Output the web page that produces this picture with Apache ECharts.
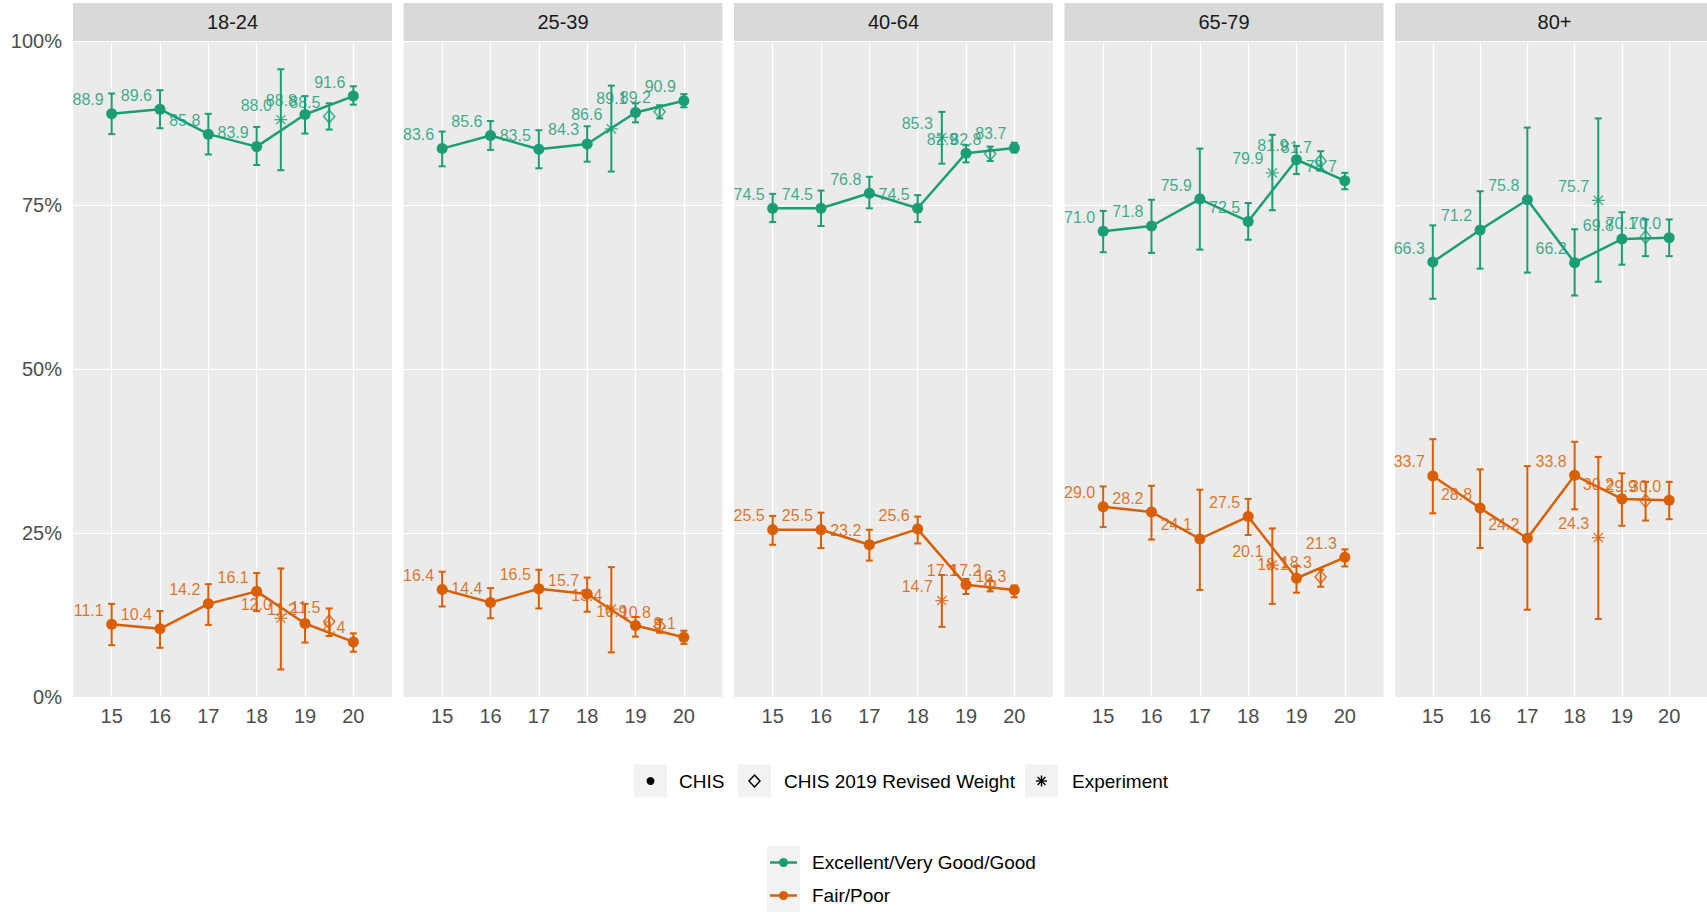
<!DOCTYPE html>
<html><head><meta charset="utf-8">
<script src="https://cdn.jsdelivr.net/npm/echarts@6/dist/echarts.min.js"></script>
<style>html,body{margin:0;padding:0;background:#fff}#c{width:1707px;height:912px}</style>
</head><body><div id="c"></div>
<script>
// ---------- data ----------
const panels = ['18-24', '25-39', '40-64', '65-79', '80+'];
const years = [15, 16, 17, 18, 19, 20];
const expX = 18.5;   // Experiment position
const revX = 19.5;   // CHIS 2019 Revised Weight position
const yTicks = [0, 25, 50, 75, 100];

// Excellent/Very Good/Good — CHIS
const goodVal = [
  [88.9, 89.6, 85.8, 83.9, 88.8, 91.6],
  [83.6, 85.6, 83.5, 84.3, 89.1, 90.9],
  [74.5, 74.5, 76.8, 74.5, 82.9, 83.7],
  [71.0, 71.8, 75.9, 72.5, 81.9, 78.7],
  [66.3, 71.2, 75.8, 66.2, 69.8, 70.0]
];
const goodLo = [
  [85.8, 86.7, 82.7, 81.1, 85.9, 90.3],
  [80.9, 83.4, 80.6, 81.6, 87.6, 89.9],
  [72.4, 71.8, 74.5, 72.4, 81.5, 83.0],
  [67.8, 67.7, 68.2, 69.7, 79.7, 77.4],
  [60.7, 65.3, 64.7, 61.2, 65.9, 67.2]
];
const goodHi = [
  [92.0, 92.5, 88.9, 86.9, 91.6, 93.1],
  [86.2, 87.8, 86.4, 87.0, 90.5, 91.9],
  [76.7, 77.2, 79.3, 76.5, 84.1, 84.5],
  [74.1, 75.8, 83.6, 75.3, 84.0, 79.9],
  [71.9, 77.1, 86.8, 71.3, 73.9, 72.8]
];
const goodExp = [88.0, 86.6, 85.3, 79.9, 75.7];
const goodExpLo = [80.3, 80.1, 81.3, 74.2, 63.3];
const goodExpHi = [95.7, 93.2, 89.2, 85.7, 88.2];
const goodRev = [88.5, 89.2, 82.8, 81.7, 70.1];
const goodRevLo = [86.5, 88.2, 81.7, 80.4, 67.2];
const goodRevHi = [90.5, 90.2, 83.9, 83.2, 72.8];

// Fair/Poor — CHIS
const poorVal = [
  [11.1, 10.4, 14.2, 16.1, 11.2, 8.4],
  [16.4, 14.4, 16.5, 15.7, 10.9, 9.1],
  [25.5, 25.5, 23.2, 25.6, 17.1, 16.3],
  [29.0, 28.2, 24.1, 27.5, 18.1, 21.3],
  [33.7, 28.8, 24.2, 33.8, 30.2, 30.0]
];
const poorLo = [
  [7.9, 7.5, 11.0, 13.1, 8.3, 6.9],
  [13.8, 12.0, 13.5, 13.0, 9.2, 8.1],
  [23.2, 22.7, 20.8, 23.4, 15.7, 15.2],
  [25.9, 24.0, 16.3, 24.7, 15.9, 19.9],
  [28.0, 22.7, 13.3, 28.6, 26.1, 27.1]
];
const poorHi = [
  [14.2, 13.1, 17.2, 18.9, 14.2, 9.7],
  [19.1, 16.6, 19.4, 18.2, 12.2, 10.1],
  [27.6, 28.1, 25.5, 27.5, 18.0, 17.0],
  [32.1, 32.2, 31.6, 30.2, 20.0, 22.5],
  [39.3, 34.7, 35.2, 38.9, 34.1, 32.8]
];
const poorExp = [12.0, 13.4, 14.7, 20.1, 24.3];
const poorExpLo = [4.2, 6.8, 10.7, 14.2, 11.9];
const poorExpHi = [19.6, 19.8, 18.6, 25.7, 36.6];
const poorRev = [11.5, 10.8, 17.2, 18.3, 29.9];
const poorRevLo = [9.3, 9.8, 16.1, 16.8, 26.9];
const poorRevHi = [13.5, 11.8, 17.7, 19.4, 32.8];

// ---------- styling / layout ----------
const FONT = '"Liberation Sans", Arial, Helvetica, sans-serif';
const GREEN = '#1b9e77', ORANGE = '#d95f02';
const PL = 73, PSTEP = 330.5, PW = 319, PTOP = 41, PH = 656;
const ASTER = 'path://M9 0H11V20H9Z M0 9H20V11H0Z M3.64 2.22L17.78 16.36L16.36 17.78L2.22 3.64Z M16.36 2.22L17.78 3.64L3.64 17.78L2.22 16.36Z';

const chart = echarts.init(document.getElementById('c'), null, {renderer: 'svg'});

function errRender(color) {
  return function (params, api) {
    const x = api.value(0), lo = api.value(1), hi = api.value(2);
    const a = api.coord([x, hi]), b = api.coord([x, lo]);
    const w = 3.5;
    const st = {stroke: color, lineWidth: 2, fill: null};
    return {type: 'group', children: [
      {type: 'line', shape: {x1: a[0], y1: a[1], x2: b[0], y2: b[1]}, style: st},
      {type: 'line', shape: {x1: a[0] - w, y1: a[1], x2: a[0] + w, y2: a[1]}, style: st},
      {type: 'line', shape: {x1: b[0] - w, y1: b[1], x2: b[0] + w, y2: b[1]}, style: st}
    ]};
  };
}
function lbl(color) {
  return {show: true, position: 'left', distance: 2.5, offset: [0, -14], color: color,
    opacity: 0.85, fontSize: 16, fontFamily: FONT, formatter: p => p.value[1].toFixed(1)};
}

const grids = [], xAxes = [], yAxes = [], series = [], graphics = [];
panels.forEach((name, i) => {
  const left = PL + i * PSTEP;
  grids.push({left: left, top: PTOP, width: PW, height: PH, show: true,
    backgroundColor: '#ebebeb', borderWidth: 0});
  xAxes.push({type: 'value', gridIndex: i, min: 14.2, max: 20.8,
    axisLine: {show: false}, axisTick: {show: false, customValues: years},
    axisLabel: {show: true, customValues: years, color: '#4d4d4d', fontSize: 20, margin: 9,
      fontFamily: FONT, formatter: v => (Number.isInteger(v) ? String(v) : '')},
    splitLine: {show: true, lineStyle: {color: '#ffffff', width: 1.2}}});
  yAxes.push({type: 'value', gridIndex: i, min: 0, max: 100, interval: 25,
    axisLine: {show: false}, axisTick: {show: false},
    axisLabel: {show: i === 0, formatter: '{value}%', color: '#4d4d4d', fontSize: 20,
      margin: 11, fontFamily: FONT},
    splitLine: {show: true, lineStyle: {color: '#ffffff', width: 1.2}}});

  const groups = [
    {name: 'Excellent/Very Good/Good', color: GREEN, v: goodVal[i], lo: goodLo[i], hi: goodHi[i],
      e: goodExp[i], eLo: goodExpLo[i], eHi: goodExpHi[i], r: goodRev[i], rLo: goodRevLo[i], rHi: goodRevHi[i]},
    {name: 'Fair/Poor', color: ORANGE, v: poorVal[i], lo: poorLo[i], hi: poorHi[i],
      e: poorExp[i], eLo: poorExpLo[i], eHi: poorExpHi[i], r: poorRev[i], rLo: poorRevLo[i], rHi: poorRevHi[i]}
  ];
  groups.forEach(g => {
    const errData = years.map((yr, k) => [yr, g.lo[k], g.hi[k]]);
    errData.push([expX, g.eLo, g.eHi]);
    errData.push([revX, g.rLo, g.rHi]);
    series.push({type: 'custom', xAxisIndex: i, yAxisIndex: i, renderItem: errRender(g.color),
      data: errData, encode: {x: 0, y: [1, 2]}, z: 2, silent: true});
    series.push({type: 'line', name: g.name, xAxisIndex: i, yAxisIndex: i,
      data: years.map((yr, k) => [yr, g.v[k]]), symbol: 'circle', symbolSize: 11,
      showAllSymbol: true, lineStyle: {color: g.color, width: 2.5},
      itemStyle: {color: g.color}, label: lbl(g.color), z: 3, silent: true});
    series.push({type: 'scatter', xAxisIndex: i, yAxisIndex: i, data: [[expX, g.e]],
      symbol: ASTER, symbolSize: 13, itemStyle: {color: g.color}, label: lbl(g.color), z: 3, silent: true});
    series.push({type: 'scatter', xAxisIndex: i, yAxisIndex: i, data: [[revX, g.r]],
      symbol: 'diamond', symbolSize: [11, 13],
      itemStyle: {color: 'rgba(0,0,0,0)', borderColor: g.color, borderWidth: 1.6},
      label: lbl(g.color), z: 3, silent: true});
  });

  // facet strip
  graphics.push({type: 'rect', shape: {x: left, y: 3, width: PW, height: 38}, style: {fill: '#d9d9d9'}, silent: true});
  graphics.push({type: 'text', x: left + PW / 2, y: 22, silent: true,
    style: {text: name, fill: '#1a1a1a', font: '20px ' + FONT, align: 'center', verticalAlign: 'middle',
      textAlign: 'center', textVerticalAlign: 'middle'}});
});

// ---------- legends (drawn as graphics) ----------
function keyBox(x, y) {
  return {type: 'rect', shape: {x: x, y: y, width: 33, height: 33}, style: {fill: '#f2f2f2'}, silent: true};
}
function legText(x, y, t) {
  return {type: 'text', x: x, y: y, silent: true,
    style: {text: t, fill: '#000', font: '19px ' + FONT, align: 'left', verticalAlign: 'middle',
      textAlign: 'left', textVerticalAlign: 'middle'}};
}
const r1 = 781;
graphics.push(keyBox(634, r1 - 16.5));
graphics.push({type: 'circle', shape: {cx: 650.5, cy: r1, r: 4}, style: {fill: '#000'}, silent: true});
graphics.push(legText(679, r1, 'CHIS'));
graphics.push(keyBox(738, r1 - 16.5));
graphics.push({type: 'polygon', shape: {points: [[754.5, r1 - 6], [760, r1], [754.5, r1 + 6], [749, r1]]},
  style: {fill: 'none', stroke: '#000', lineWidth: 1.5}, silent: true});
graphics.push(legText(784, r1, 'CHIS 2019 Revised Weight'));
graphics.push(keyBox(1025, r1 - 16.5));
(function () {
  const cx = 1041.5, cy = r1, s = 5.5, d = 3.9;
  const segs = [[cx, cy - s, cx, cy + s], [cx - s, cy, cx + s, cy], [cx - d, cy - d, cx + d, cy + d], [cx + d, cy - d, cx - d, cy + d]];
  segs.forEach(q => graphics.push({type: 'line', shape: {x1: q[0], y1: q[1], x2: q[2], y2: q[3]},
    style: {stroke: '#000', lineWidth: 1.4}, silent: true}));
})();
graphics.push(legText(1072, r1, 'Experiment'));

[[GREEN, 'Excellent/Very Good/Good', 862.5], [ORANGE, 'Fair/Poor', 895.5]].forEach(it => {
  const [col, t, cy] = it;
  graphics.push(keyBox(767, cy - 16.5));
  graphics.push({type: 'line', shape: {x1: 770, y1: cy, x2: 797, y2: cy}, style: {stroke: col, lineWidth: 2.5}, silent: true});
  graphics.push({type: 'circle', shape: {cx: 783.5, cy: cy, r: 4.5}, style: {fill: col}, silent: true});
  graphics.push(legText(812, cy, t));
});

chart.setOption({
  animation: false,
  backgroundColor: '#ffffff',
  grid: grids,
  xAxis: xAxes,
  yAxis: yAxes,
  series: series,
  graphic: {elements: graphics}
});
</script>
</body></html>
